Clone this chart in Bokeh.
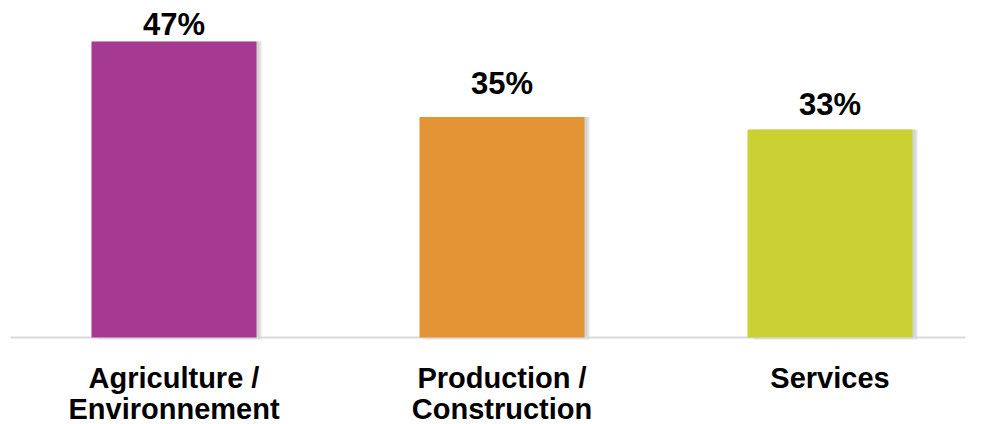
from bokeh.plotting import figure
from bokeh.models import Range1d, ColumnDataSource
from bokeh.embed import file_html
from bokeh.resources import INLINE
from bokeh.core.properties import value

# Data
categories = ["Agriculture / Environnement", "Production / Construction", "Services"]
cat_line1 = ["Agriculture /", "Production /", "Services"]
cat_line2 = ["Environnement", "Construction", ""]
values = [47, 35, 33]
value_labels = ["47%", "35%", "33%"]
colors = ["#A63A93", "#E39535", "#CBD133"]

W, H = 981, 424
x = list(range(len(categories)))
px_per_unit = 328.0
k = 6.3  # px per percent
base_px = 337
label_offsets = [-17, -34, -25]  # screen-px placement of value labels above bars

p = figure(width=W, height=H, output_backend="svg", toolbar_location=None,
           min_border=0, min_border_left=0, min_border_right=0,
           min_border_top=0, min_border_bottom=0)
p.x_range = Range1d(-173.5 / px_per_unit, (W - 173.5) / px_per_unit)
p.y_range = Range1d(-(H - base_px) / k, base_px / k)
p.axis.visible = False
p.grid.visible = False
p.outline_line_color = None
p.background_fill_color = "white"
p.border_fill_color = "white"

src = ColumnDataSource(dict(x=x, xs=[v + 5 / px_per_unit for v in x], top=values,
                            color=colors, lab=value_labels, off=label_offsets,
                            l1=cat_line1, l2=cat_line2, zero=[0] * len(x)))

bw = 165 / px_per_unit
# shadow
p.vbar(x="xs", top="top", bottom=-2 / k, width=bw, source=src,
       fill_color="#000000", fill_alpha=0.10, line_color=None)
p.vbar(x="xs", top="top", bottom=-1 / k, width=bw - 4 / px_per_unit, source=src,
       fill_color="#000000", fill_alpha=0.08, line_color=None)

# baseline
p.segment(x0=[(10 - 173.5) / px_per_unit], y0=[0], x1=[(965 - 173.5) / px_per_unit], y1=[0],
          line_color="#D9D9D9", line_width=2)

p.vbar(x="x", top="top", bottom=0, width=bw, source=src,
       fill_color="color", line_color=None)

p.text(x="x", y="top", text="lab", source=src, y_offset="off",
       text_align="center", text_baseline="alphabetic",
       text_font=value("Liberation Sans"), text_font_style="bold",
       text_font_size="31px", text_color="#000000")

p.text(x="x", y="zero", text="l1", source=src, y_offset=40,
       text_align="center", text_baseline="alphabetic",
       text_font=value("Liberation Sans"), text_font_style="bold",
       text_font_size="29px", text_color="#000000")
p.text(x="x", y="zero", text="l2", source=src, y_offset=71,
       text_align="center", text_baseline="alphabetic",
       text_font=value("Liberation Sans"), text_font_style="bold",
       text_font_size="29px", text_color="#000000")

open("out.html", "w").write(file_html(p, INLINE))
